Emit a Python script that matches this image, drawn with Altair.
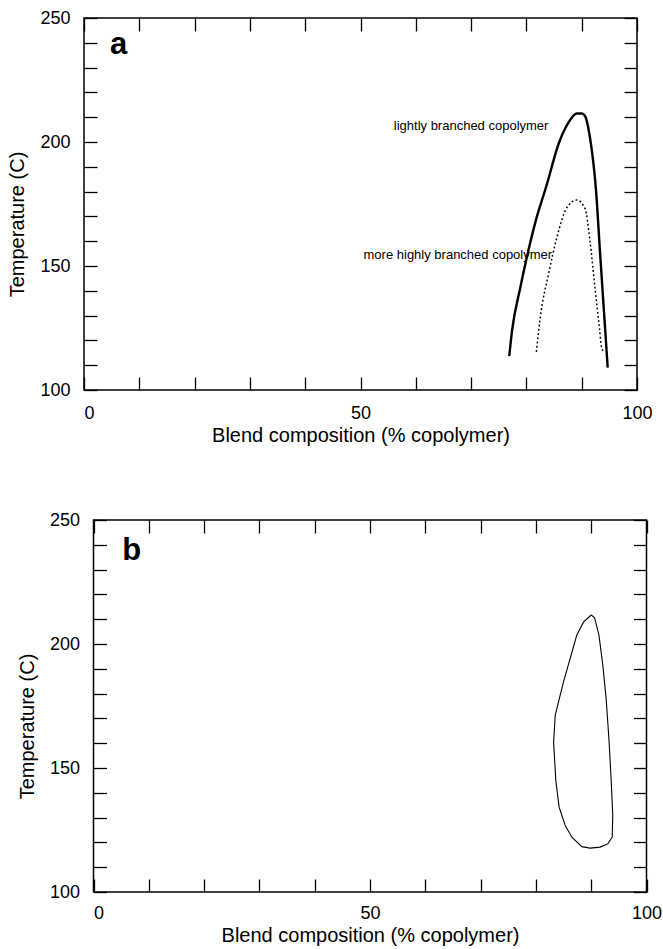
import altair as alt
import pandas as pd

# ---------------- data ----------------
# Panel a: lightly branched copolymer (solid)
solid_x = [76.9, 77.4, 78.9, 80.2, 81.6, 83.7, 85.8, 87.6, 89.1, 90.0, 90.6, 91.5, 92.6, 93.3, 94.1, 94.7]
solid_y = [113.7, 123.8, 141.3, 154.7, 167.5, 182.9, 199.1, 207.8, 211.5, 211.5, 210.5, 201.7, 180.2, 156.0, 129.2, 109.0]
# Panel a: more highly branched copolymer (dotted)
dotted_x = [81.8, 82.5, 84.0, 85.5, 87.3, 89.1, 90.6, 91.5, 92.4, 93.2, 93.6, 93.9]
dotted_y = [115.4, 129.2, 146.7, 161.4, 173.5, 176.6, 173.2, 160.1, 141.3, 125.1, 117.1, 115.7]
# Panel a curve labels
curve_labels = ["lightly branched copolymer", "more highly branched copolymer"]
curve_label_x = [70.0, 67.6]
curve_label_y = [206.5, 154.4]
# Panel b: closed loop
loop_x = [90.0, 90.6, 91.4, 92.1, 92.7, 93.2, 93.6, 93.9, 93.8, 93.0, 91.6, 89.8, 88.3,
          86.5, 85.3, 84.2, 83.6, 83.2, 83.5, 85.0, 86.2, 87.4, 88.6, 90.0]
loop_y = [211.7, 210.7, 203.6, 191.5, 178.0, 161.9, 145.7, 130.9, 122.1, 119.4, 118.1, 117.7, 118.3,
          122.1, 126.8, 134.2, 145.0, 160.5, 171.3, 184.8, 194.2, 203.6, 208.8, 211.7]
# panel letters
panel_letters = ["a", "b"]
letter_x = [4.7, 5.2]
letter_y = [235.5, 233.8]

x_domain = [0, 100]
y_domain = [100, 250]
x_ticks = [0, 10, 20, 30, 40, 50, 60, 70, 80, 90, 100]
y_ticks = [100, 110, 120, 130, 140, 150, 160, 170, 180, 190, 200, 210, 220, 230, 240, 250]
x_title = "Blend composition (% copolymer)"
y_title = "Temperature (C)"

# ---------------- tables ----------------
df_solid = pd.DataFrame({"x": solid_x, "y": solid_y, "o": list(range(len(solid_x)))})
df_dotted = pd.DataFrame({"x": dotted_x, "y": dotted_y, "o": list(range(len(dotted_x)))})
df_loop = pd.DataFrame({"x": loop_x, "y": loop_y, "o": list(range(len(loop_x)))})
df_labels = pd.DataFrame({"x": curve_label_x, "y": curve_label_y, "t": curve_labels})
df_letter_a = pd.DataFrame({"x": [letter_x[0]], "y": [letter_y[0]], "t": [panel_letters[0]]})
df_letter_b = pd.DataFrame({"x": [letter_x[1]], "y": [letter_y[1]], "t": [panel_letters[1]]})
df_frame = pd.DataFrame({"x": [x_domain[0]], "x2": [x_domain[1]], "y": [y_domain[0]], "y2": [y_domain[1]]})

# ---------------- styling ----------------
W, H = 553, 372
TICK = 13
SHIFT_B = 9.5  # panel b sits a little to the right of panel a in the original
FONT = "Liberation Sans"

ys = alt.Scale(domain=y_domain, nice=False, zero=False)
xs_a = alt.Scale(domain=x_domain, nice=False, zero=False)
xs_b = alt.Scale(domain=x_domain, range=[SHIFT_B, W + SHIFT_B], nice=False, zero=False)

LABEL_EXPR = "datum.value % 50 == 0 ? datum.label : ''"


def main_x(xs, label_pad, title_pad):
    return alt.X("x:Q", scale=xs, axis=alt.Axis(
        values=x_ticks, labelExpr=LABEL_EXPR,
        offset=-TICK, tickSize=TICK, domain=False, grid=False, title=x_title,
        labelPadding=label_pad, titlePadding=title_pad, labelFlush=False,
        labelOffset=alt.condition("datum.value == 0", alt.value(5), alt.value(0))))


def main_y(left_shift):
    return alt.Y("y:Q", scale=ys, axis=alt.Axis(
        values=y_ticks, labelExpr=LABEL_EXPR,
        offset=-(TICK + left_shift), tickSize=TICK, domain=False, grid=False, title=y_title,
        labelPadding=14, titlePadding=12, titleY=206))


def mirror_x(xs):
    return alt.X("x:Q", scale=xs, axis=alt.Axis(
        orient="top", values=x_ticks, labels=False, offset=-TICK, tickSize=TICK,
        domain=False, grid=False, title=None))


def mirror_y():
    return alt.Y("y:Q", scale=ys, axis=alt.Axis(
        orient="right", values=y_ticks, labels=False, offset=-TICK, tickSize=TICK,
        domain=False, grid=False, title=None))


def plain_x(xs, field="x:Q"):
    return alt.X(field, scale=xs, axis=None)


def plain_y(field="y:Q"):
    return alt.Y(field, scale=ys, axis=None)


def letter_layer(df, xs):
    return alt.Chart(df).mark_text(font=FONT, fontSize=31, fontWeight="bold", align="left",
                                   baseline="alphabetic", color="black").encode(
        x=plain_x(xs), y=plain_y(), text="t:N")


# ---------------- panel a ----------------
a_solid = alt.Chart(df_solid).mark_line(color="black", strokeWidth=2.4, interpolate="monotone").encode(
    x=main_x(xs_a, 14, 3), y=main_y(0), order="o:Q")
a_mirror = alt.Chart(df_solid).mark_line(opacity=0).encode(x=mirror_x(xs_a), y=mirror_y(), order="o:Q")
a_dotted = alt.Chart(df_dotted).mark_line(color="black", strokeWidth=1.5, strokeDash=[1.8, 2.4],
                                          interpolate="monotone").encode(
    x=plain_x(xs_a), y=plain_y(), order="o:Q")
a_text = alt.Chart(df_labels).mark_text(font=FONT, fontSize=13, align="center", baseline="middle",
                                        color="black").encode(x=plain_x(xs_a), y=plain_y(), text="t:N")

panel_a = alt.layer(a_solid, a_mirror, a_dotted, a_text, letter_layer(df_letter_a, xs_a)).resolve_axis(
    x="independent", y="independent").properties(width=W, height=H)

# ---------------- panel b ----------------
b_loop = alt.Chart(df_loop).mark_line(color="black", strokeWidth=1.1, interpolate="linear").encode(
    x=main_x(xs_b, 12, 3), y=main_y(SHIFT_B), order="o:Q")
b_mirror = alt.Chart(df_loop).mark_line(opacity=0).encode(x=mirror_x(xs_b), y=mirror_y(), order="o:Q")
b_frame = alt.Chart(df_frame).mark_rect(filled=False, stroke="black", strokeWidth=1.5).encode(
    x=plain_x(xs_b), x2="x2:Q", y=plain_y(), y2="y2:Q")

panel_b = alt.layer(b_frame, b_loop, b_mirror, letter_layer(df_letter_b, xs_b)).resolve_axis(
    x="independent", y="independent").properties(
    width=W + SHIFT_B, height=H, view=alt.ViewBackground(stroke="transparent"))

chart = alt.vconcat(
    panel_a,
    panel_b,
    spacing=64,
).properties(
    padding={"left": 7, "top": 8, "right": 0, "bottom": 0},
    background="white",
).configure_view(
    stroke="black", strokeWidth=1.5
).configure_axis(
    labelFont=FONT, titleFont=FONT, labelFontSize=18, titleFontSize=20,
    titleFontWeight="normal", labelColor="black", titleColor="black",
    tickColor="black", tickWidth=1.3
)

chart.save("out.html", embed_options={"renderer": "svg", "actions": False})
